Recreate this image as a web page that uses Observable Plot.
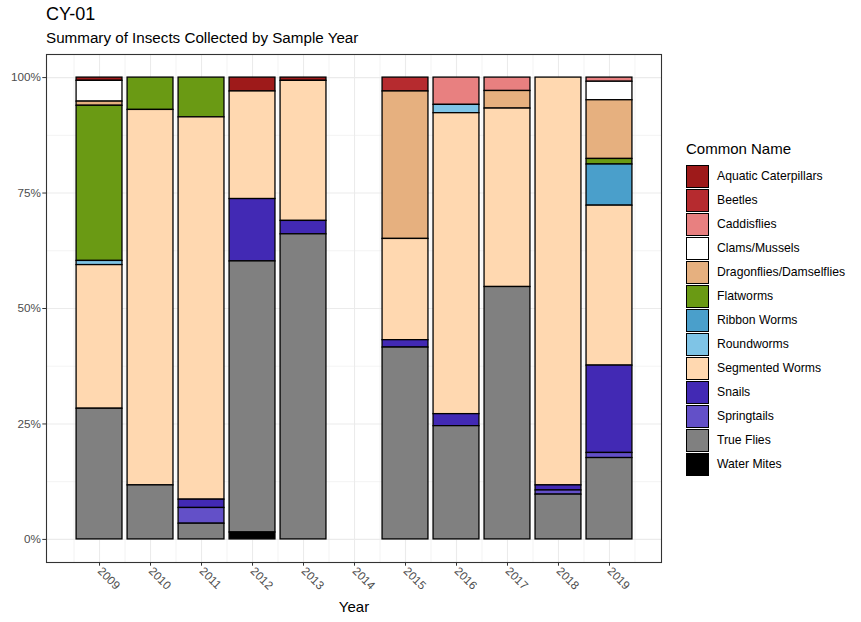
<!DOCTYPE html>
<html><head><meta charset="utf-8">
<script src="https://cdn.jsdelivr.net/npm/d3@7"></script>
<script src="https://cdn.jsdelivr.net/npm/@observablehq/plot@0.6"></script>
<style>
body{margin:0;background:#fff;font-family:"Liberation Sans",Arial,sans-serif;}
#wrap{position:relative;width:861px;height:622px;overflow:hidden;}
#wrap svg{position:absolute;left:0;top:0;}
.title{position:absolute;left:46px;top:4px;font-size:18px;color:#000;}
.subtitle{position:absolute;left:46px;top:29px;font-size:15.2px;color:#000;}
#legend{position:absolute;left:686px;top:140px;}
#legend .lt{font-size:15px;color:#000;margin-bottom:7px;}
#legend .row{display:flex;align-items:center;height:24px;}
#legend .key{width:21px;height:21px;border:1px solid #000;box-sizing:content-box;margin-right:8px;}
#legend .lab{font-size:12.2px;color:#000;}
</style></head><body>
<div id="wrap">
  <div class="title">CY-01</div>
  <div class="subtitle">Summary of Insects Collected by Sample Year</div>
  <div id="legend"></div>
</div>
<script>
const years = [2009, 2010, 2011, 2012, 2013, 2014, 2015, 2016, 2017, 2018, 2019];
const names = ["Aquatic Caterpillars", "Beetles", "Caddisflies", "Clams/Mussels", "Dragonflies/Damselflies",
  "Flatworms", "Ribbon Worms", "Roundworms", "Segmented Worms", "Snails", "Springtails", "True Flies", "Water Mites"];
const colors = ["#9E1A1A", "#B62B2F", "#E88080", "#FFFFFF", "#E6B07F", "#6A9A14", "#4A9FCB",
  "#7FC4E6", "#FFD8B0", "#4229B4", "#6350C8", "#808080", "#000000"];

// percent of sample per year (order of years above)
const aquaticCaterpillars = [0.7, 0, 0, 3.0, 0.7, 0, 0, 0, 0, 0, 0];
const beetles             = [0, 0, 0, 0, 0, 0, 3.0, 0, 0, 0, 0];
const caddisflies         = [0, 0, 0, 0, 0, 0, 0, 5.9, 2.9, 0, 0.9];
const clamsMussels        = [4.5, 0, 0, 0, 0, 0, 0, 0, 0, 0, 4.0];
const dragonflies         = [0.9, 0, 0, 0, 0, 0, 31.9, 0, 3.8, 0, 12.7];
const flatworms           = [33.6, 7.0, 8.6, 0, 0, 0, 0, 0, 0, 0, 1.2];
const ribbonWorms         = [0, 0, 0, 0, 0, 0, 0, 0, 0, 0, 8.9];
const roundworms          = [0.9, 0, 0, 0, 0, 0, 0, 1.8, 0, 0, 0];
const segmentedWorms      = [31.1, 81.3, 82.7, 23.3, 30.3, 0, 21.9, 65.1, 38.6, 88.3, 34.6];
const snails              = [0, 0, 1.8, 13.5, 2.9, 0, 1.6, 2.6, 0, 1.1, 18.9];
const springtails         = [0, 0, 3.4, 0, 0, 0, 0, 0, 0, 0.9, 1.1];
const trueFlies           = [28.3, 11.7, 3.4, 58.7, 66.0, 0, 41.5, 24.5, 54.6, 9.7, 17.6];
const waterMites          = [0, 0, 0, 1.5, 0, 0, 0, 0, 0, 0, 0];

const yTicks = [0, 0.25, 0.5, 0.75, 1];
const yMinor = [0.125, 0.375, 0.625, 0.875];
const xMinor = [2008.5, 2009.5, 2010.5, 2011.5, 2012.5, 2013.5, 2014.5, 2015.5, 2016.5, 2017.5, 2018.5, 2019.5];

const series = [aquaticCaterpillars, beetles, caddisflies, clamsMussels, dragonflies, flatworms,
  ribbonWorms, roundworms, segmentedWorms, snails, springtails, trueFlies, waterMites];
const table = [];
series.forEach((arr, i) => arr.forEach((v, j) => {
  if (v > 0) table.push({year: years[j], name: names[i], value: v});
}));
const bottomOrder = names.slice().reverse();

const chart = Plot.plot({
  width: 861, height: 622,
  marginLeft: 46, marginTop: 54, marginRight: 200, marginBottom: 60,
  style: {fontFamily: '"Liberation Sans", Arial, sans-serif', fontSize: "11.7px", color: "#4D4D4D", background: "transparent", overflow: "visible"},
  x: {domain: [2007.96, 2020.02], axis: null},
  y: {domain: [-0.05, 1.05], axis: null},
  color: {domain: names, range: colors},
  marks: [
    Plot.ruleY(yMinor, {stroke: "#EBEBEB", strokeWidth: 0.6}),
    Plot.ruleX(xMinor, {stroke: "#EBEBEB", strokeWidth: 0.6}),
    Plot.ruleY(yTicks, {stroke: "#EBEBEB", strokeWidth: 1.1}),
    Plot.ruleX(years, {stroke: "#EBEBEB", strokeWidth: 1.1}),
    Plot.rectY(table, Plot.stackY({
      x: "year", x1: d => d.year - 0.45, x2: d => d.year + 0.45,
      y: "value", fill: "name", z: "name", order: bottomOrder, offset: "normalize",
      stroke: "#000", strokeWidth: 1.3
    })),
    Plot.frame({stroke: "#333333", strokeWidth: 1.1}),
    Plot.axisY({ticks: yTicks, label: null, tickFormat: d3.format(".0%"), tickSize: 3.7, tickPadding: 2, stroke: "#333333", fill: "#4D4D4D"}),
    Plot.axisX({ticks: years, label: null, tickFormat: "d", tickSize: 3.7, tickPadding: 3, tickRotate: 45, textAnchor: "start", stroke: "#333333", fill: "#4D4D4D"}),
    Plot.text(["Year"], {frameAnchor: "bottom", dy: 49, text: d => d, fill: "#000", fontSize: 15})
  ]
});
document.getElementById("wrap").prepend(chart);

const lg = document.getElementById("legend");
lg.innerHTML = '<div class="lt">Common Name</div>' + names.map((n, i) =>
  `<div class="row"><div class="key" style="background:${colors[i]}"></div><div class="lab">${n}</div></div>`).join("");
</script>
</body></html>
